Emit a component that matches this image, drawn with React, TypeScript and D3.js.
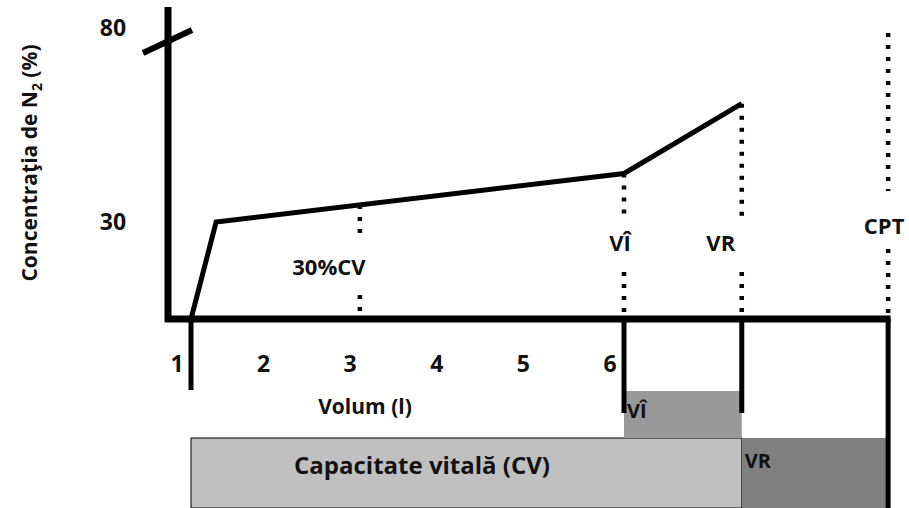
import React from 'react'
import * as d3 from 'd3'

// volume (l) ticks on the x axis
const volumeTicks = [1, 2, 3, 4, 5, 6]
// N2 concentration ticks (axis is broken below 30)
const n2Ticks = [30, 80]

// washout curve
const curveVolume = [1, 1.29, 6, 7.36]
const curveN2 = [0, 30, 42.5, 60.5]

// dotted markers
const markerLabels = ['30%CV', 'VÎ', 'VR', 'CPT']
const markerVolume = [2.95, 6, 7.36, 9.05]
const markerTop = [34.4, 42.5, 60.5, 78.7]

// volume boxes under the chart
const boxLabels = ['Capacitate vitală (CV)', 'VÎ', 'VR']
const boxFrom = [1, 6, 7.36]
const boxTo = [7.36, 7.36, 9.05]
const boxFill = ['#c0c0c0', '#999999', '#808080']

const W = 909
const H = 508
const font = '"Open Sans", Lato, sans-serif'

const App = () => {
    const x = d3.scaleLinear().domain([1, 6]).range([191, 624])
    // piecewise scale to mimic the axis break
    const y = d3.scaleLinear().domain([0, 30, 80]).range([319, 222, 28])

    const pts: [number, number][] = curveVolume.map((v, i) => [v, curveN2[i]])
    const line = d3.line<[number, number]>()
        .x(d => x(d[0]))
        .y(d => y(d[1]))

    const baseY = y(0)

    // label centre / gaps for each marker (layout only)
    const labelY = [267, 243, 243, 226]
    const labelDx = [-31, -4, -21, -4]
    const gapUp = [29, 26, 26, 35]
    const gapDown = [28, 29, 29, 23]

    const stubEnd = [390, 413, 413, H]
    const stubVol = [1, 6, 7.36, 9.05]

    const rowTop = [438, 391, 438]
    const rowBottom = [H, 438, H]

    return (
        <svg width={W} height={H} style={{ position: 'absolute', left: 0, top: 0, display: 'block', background: '#fff' }}
            fontFamily={font} fontWeight="bold">
            {/* boxes */}
            {boxLabels.map((lab, i) => (
                <rect key={'box' + i} x={x(boxFrom[i])} y={rowTop[i]} width={x(boxTo[i]) - x(boxFrom[i])}
                    height={rowBottom[i] - rowTop[i]} fill={boxFill[i]}
                    stroke={i === 0 ? '#000' : 'none'} strokeWidth={i === 0 ? 1 : 0} />
            ))}
            {boxLabels.map((lab, i) => (
                i === 0
                    ? <text key={'bl' + i} x={422} y={466} dy="0.35em" fontSize={24}
                        textAnchor="middle" fill="#111">{lab}</text>
                    : <text key={'bl' + i} x={x(boxFrom[i]) + 3} y={i === 1 ? 411 : 461} dy="0.35em" fontSize={20}
                        fill="#111">{lab}</text>
            ))}

            {/* stubs under the axis */}
            {stubVol.map((v, i) => (
                <line key={'st' + i} x1={x(v)} x2={x(v)} y1={baseY} y2={stubEnd[i]} stroke="#000" strokeWidth={5} />
            ))}

            {/* dotted markers */}
            {markerLabels.map((lab, i) => {
                const mx = x(markerVolume[i])
                return (
                    <g key={'mk' + i}>
                        <line x1={mx} x2={mx} y1={y(markerTop[i])} y2={labelY[i] - gapUp[i]}
                            stroke="#000" strokeWidth={4.5} strokeDasharray="4 8" />
                        <line x1={mx} x2={mx} y1={labelY[i] + gapDown[i]} y2={baseY - 3}
                            stroke="#000" strokeWidth={4.5} strokeDasharray="4 8" />
                        <text x={mx + labelDx[i]} y={labelY[i]} dy="0.35em" fontSize={22}
                            textAnchor="middle" fill="#111">{lab}</text>
                    </g>
                )
            })}

            {/* curve */}
            <path d={line(pts) || ''} fill="none" stroke="#000" strokeWidth={5} strokeLinejoin="miter" />

            {/* axes */}
            <line x1={168} x2={168} y1={7} y2={baseY + 3} stroke="#000" strokeWidth={7} />
            <line x1={165} x2={x(9.05) + 2.5} y1={baseY} y2={baseY} stroke="#000" strokeWidth={7} />
            {/* axis break */}
            <line x1={143} y1={53} x2={192} y2={30} stroke="#000" strokeWidth={6} />

            {/* tick labels */}
            {volumeTicks.map(v => (
                <text key={'xt' + v} x={x(v) - 14} y={364} dy="0.35em" fontSize={23}
                    textAnchor="middle" fill="#111">{v}</text>
            ))}
            {n2Ticks.map(v => (
                <text key={'yt' + v} x={113} y={y(v)} dy="0.35em" fontSize={23}
                    textAnchor="middle" fill="#111">{v}</text>
            ))}

            <text x={365} y={407} dy="0.35em" fontSize={21} textAnchor="middle" fill="#111">Volum (l)</text>

            <text transform="translate(30,163) rotate(-90)" dy="0.35em" fontSize={21}
                textAnchor="middle" fill="#111">
                Concentraţia de N<tspan fontSize={14} dy="5">2</tspan><tspan dy="-5"> (%)</tspan>
            </text>
        </svg>
    )
}

export default App
